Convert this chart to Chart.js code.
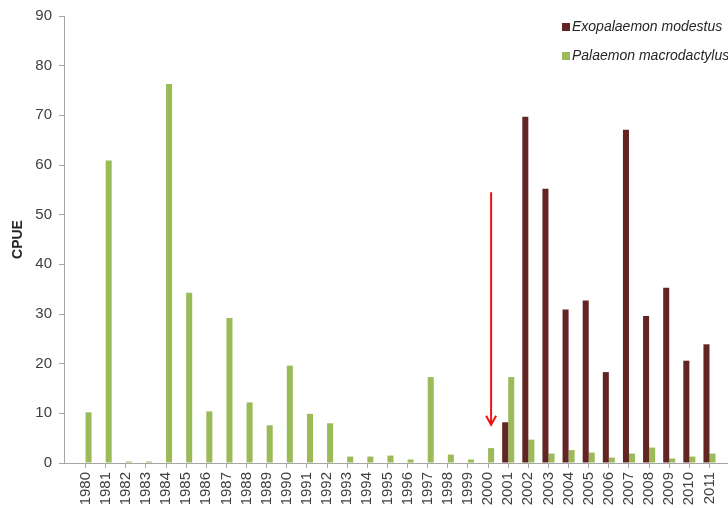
<!DOCTYPE html>
<html>
<head>
<meta charset="utf-8">
<script src="https://cdn.jsdelivr.net/npm/chart.js@4/dist/chart.umd.min.js"></script>
<style>
  html, body { margin: 0; padding: 0; background: #fff; }
  #cpueChart { display: block; }
</style>
</head>
<body>
<canvas id="cpueChart" width="728" height="508"></canvas>
<script>
// years on the x axis
const years = [1980,1981,1982,1983,1984,1985,1986,1987,1988,1989,1990,1991,1992,1993,1994,1995,
               1996,1997,1998,1999,2000,2001,2002,2003,2004,2005,2006,2007,2008,2009,2010,2011];

// CPUE per species
const exopalaemon = [null,null,null,null,null,null,null,null,null,null,null,null,null,null,null,null,
                     null,null,null,null,null,8.2,69.7,55.2,30.9,32.7,18.3,67.1,29.6,35.3,20.6,23.9];
const palaemon = [10.2,60.9,0.3,0.3,76.3,34.3,10.4,29.2,12.2,7.6,19.6,9.9,8.0,1.3,1.3,1.5,
                  0.7,17.3,1.7,0.7,3.0,17.3,4.7,1.9,2.6,2.1,1.1,1.9,3.1,0.9,1.3,1.9];

const seriesNames = ['Exopalaemon modestus', 'Palaemon macrodactylus'];
const yTicks = [0,10,20,30,40,50,60,70,80,90];

// red arrow marking the first record (x in years, y in CPUE)
const arrowX = 2000.15;
const arrowFrom = 54.5;
const arrowTo = 7.7;

const RED = '#632523';
const GREEN = '#9bbb59';
const FONT = '"Liberation Sans", Arial, sans-serif';

const toPoints = vals => years.map((y, i) => ({ x: y, y: vals[i] }));

// legend in the top right corner, like the original
const cornerLegend = {
    id: 'cornerLegend',
    afterDraw(chart) {
        const ctx = chart.ctx;
        ctx.save();
        ctx.font = 'italic 14px ' + FONT;
        ctx.textBaseline = 'middle';
        chart.data.datasets.forEach((ds, i) => {
            const y = 27 + i * 29;
            ctx.fillStyle = ds.backgroundColor;
            ctx.fillRect(562, y - 4, 8, 8);
            ctx.fillStyle = '#262626';
            ctx.fillText(ds.label, 572, y);
        });
        ctx.restore();
    }
};

// the red arrow
const arrow = {
    id: 'arrow',
    afterDatasetsDraw(chart) {
        const { ctx, scales: { x, y } } = chart;
        const px = x.getPixelForValue(arrowX);
        const top = y.getPixelForValue(arrowFrom);
        const tip = y.getPixelForValue(arrowTo);
        ctx.save();
        ctx.strokeStyle = '#ee1111';
        ctx.lineWidth = 2;
        ctx.beginPath();
        ctx.moveTo(px, top);
        ctx.lineTo(px, tip);
        ctx.moveTo(px - 5, tip - 9);
        ctx.lineTo(px, tip);
        ctx.lineTo(px + 5, tip - 9);
        ctx.stroke();
        ctx.restore();
    }
};

const chart = new Chart(document.getElementById('cpueChart'), {
    type: 'bar',
    data: {
        datasets: [
            { label: seriesNames[0], data: toPoints(exopalaemon), backgroundColor: RED },
            { label: seriesNames[1], data: toPoints(palaemon), backgroundColor: GREEN }
        ]
    },
    options: {
        responsive: false,
        animation: false,
        layout: { padding: { top: 16, right: 0, left: 0, bottom: 0 } },
        datasets: { bar: { categoryPercentage: 0.6, barPercentage: 1.0 } },
        plugins: { legend: { display: false }, tooltip: { enabled: false } },
        scales: {
            x: {
                type: 'linear',
                offset: false,
                min: 1978.93,
                max: 2011.92,
                afterBuildTicks: s => { s.ticks = years.map(v => ({ value: v })); },
                afterFit: s => { s.height = 45; s.paddingLeft = 0; s.paddingRight = 0; },
                grid: { offset: false, drawOnChartArea: false, drawTicks: true, tickLength: 5, color: '#a6a6a6' },
                border: { color: '#a6a6a6', width: 1 },
                ticks: {
                    autoSkip: false,
                    minRotation: 90,
                    maxRotation: 90,
                    padding: 4,
                    color: '#404040',
                    font: { family: FONT, size: 15 },
                    callback: v => String(v)
                }
            },
            y: {
                min: 0,
                max: 90,
                afterBuildTicks: s => { s.ticks = yTicks.map(v => ({ value: v })); },
                afterFit: s => { s.width = 64; },
                grid: { drawOnChartArea: false, drawTicks: true, tickLength: 5, color: '#a6a6a6' },
                border: { color: '#a6a6a6', width: 1 },
                ticks: { color: '#404040', padding: 7, font: { family: FONT, size: 15 } },
                title: {
                    display: true,
                    text: 'CPUE',
                    color: '#262626',
                    padding: { top: 10, bottom: 0 },
                    font: { family: FONT, size: 14, weight: 'bold' }
                }
            }
        }
    },
    plugins: [cornerLegend, arrow]
});
</script>
</body>
</html>
